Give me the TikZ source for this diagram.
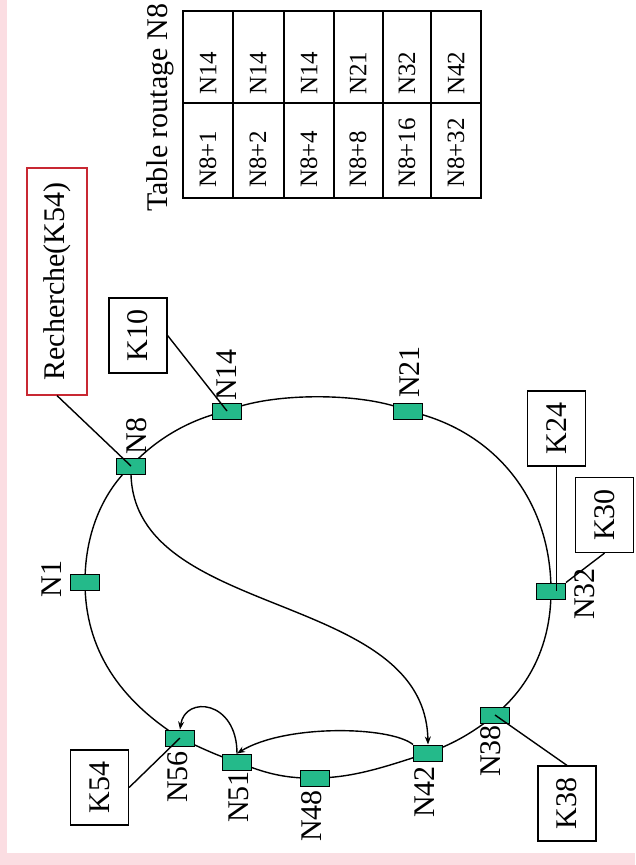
\documentclass[tikz,border=0pt]{standalone}
\usepackage{fontspec}
\setmainfont{Liberation Serif}
\usetikzlibrary{arrows.meta}
\definecolor{pinkbg}{RGB}{251,221,226}
\definecolor{peercol}{RGB}{36,186,138}
\definecolor{searchred}{RGB}{200,40,50}
\pgfdeclarelayer{paper}
\pgfdeclarelayer{background}
\pgfsetlayers{paper,background,main}

\begin{document}
\begin{tikzpicture}[x=1pt,y=-1pt,
  peer/.style={draw=black, line width=1pt, fill=peercol,
    minimum width=29pt, minimum height=16pt, inner sep=0pt},
  plabel/.style={rotate=90, inner sep=0pt, font=\fontsize{30}{36}\selectfont},
  keybox/.style={draw, line width=1.2pt, rotate=90, minimum width=75pt,
    minimum height=58pt, inner sep=0pt, font=\fontsize{30}{36}\selectfont},
  ring/.style={line width=1.4pt},
  link/.style={line width=1.4pt},
  hop/.style={line width=1.4pt, -{Stealth[length=8pt,width=6pt]}},
  cell/.style={rotate=90, anchor=west, inner sep=0pt, font=\fontsize{25}{30}\selectfont},
]
% page background with pink frame
\begin{pgfonlayer}{paper}
\fill[pinkbg] (0,0) rectangle (635,865);
\fill[white] (7,0) rectangle (635,853);
\end{pgfonlayer}
\useasboundingbox (0,0) rectangle (635,865);

% routing table of N8
\node[rotate=90, anchor=base west, inner sep=0pt, font=\fontsize{30}{36}\selectfont]
  (title) at (167,212) {Table routage N8};
\draw[line width=1.4pt] (183,11) rectangle (481,198);
\draw[line width=1.4pt] (183,103) -- (481,103);
\foreach \x in {233,284,334,383,431}
  \draw[line width=1.4pt] (\x,11) -- (\x,198);
\node[cell] (f1) at (208,188) {N8+1};
\node[cell] (f2) at (258,188) {N8+2};
\node[cell] (f3) at (309,188) {N8+4};
\node[cell] (f4) at (358,188) {N8+8};
\node[cell] (f5) at (407,188) {N8+16};
\node[cell] (f6) at (456,188) {N8+32};
\node[cell] (s1) at (208,95) {N14};
\node[cell] (s2) at (258,95) {N14};
\node[cell] (s3) at (309,95) {N14};
\node[cell] (s4) at (358,95) {N21};
\node[cell] (s5) at (407,95) {N32};
\node[cell] (s6) at (456,95) {N42};

% peers on the ring
\node[peer] (N1)  at (85,582)  {};
\node[peer] (N8)  at (131,466) {};
\node[peer] (N14) at (227,411) {};
\node[peer] (N21) at (408,411) {};
\node[peer] (N32) at (551,591) {};
\node[peer] (N38) at (495,715) {};
\node[peer] (N42) at (428,753) {};
\node[peer] (N48) at (315,778) {};
\node[peer] (N51) at (237,762) {};
\node[peer] (N56) at (180,738) {};

% peer names
\node[plabel] (lN1)  at (52,579)  {N1};
\node[plabel] (lN8)  at (137,436) {N8};
\node[plabel] (lN14) at (227,375) {N14};
\node[plabel] (lN21) at (410,372) {N21};
\node[plabel] (lN32) at (585,594) {N32};
\node[plabel] (lN38) at (491,751) {N38};
\node[plabel] (lN42) at (425,792) {N42};
\node[plabel] (lN48) at (312,816) {N48};
\node[plabel] (lN51) at (239,797) {N51};
\node[plabel] (lN56) at (178,777) {N56};

% keys and the lookup request
\node[keybox, draw=searchred, minimum width=227pt, minimum height=60pt]
  (req) at (57,281.5) {Recherche(K54)};
\node[keybox] (K10) at (138,335.5) {K10};
\node[keybox] (K24) at (556.5,428.5) {K24};
\node[keybox] (K30) at (604.5,515) {K30};
\node[keybox] (K38) at (567,803.5) {K38};
\node[keybox] (K54) at (99.5,787.5) {K54};

% the ring itself, behind the peers
\begin{pgfonlayer}{background}
\draw[ring] (N8.center) .. controls (160,435) and (195,418) .. (N14.center)
  .. controls (270,392) and (365,392) .. (N21.center)
  .. controls (495,430) and (551,500) .. (N32.center)
  .. controls (551,650) and (525,690) .. (N38.center)
  .. controls (470,735) and (450,745) .. (N42.center)
  .. controls (390,765) and (355,778) .. (N48.center)
  .. controls (280,779) and (258,770) .. (N51.center)
  .. controls (215,755) and (195,745) .. (N56.center)
  .. controls (120,700) and (85,650) .. (N1.center)
  .. controls (85,530) and (105,490) .. (N8.center);
\end{pgfonlayer}

% keys attached to their peers
\draw[link] (req.west) -- (N8.center);
\draw[link] (K10.south) -- (N14.center);
\draw[link] (K24.west) -- (K24.west |- N32.center);
\draw[link] (K30.west) -- (N32.north east);
\draw[link] (K38.east) -- (N38.center);
\draw[link] (K54.south) -- (N56.center);

% lookup hops
\draw[hop] (N8.south) .. controls (135,620) and (425,590) .. (N42.north);
\draw[hop] (N42.north west) .. controls (390,726) and (285,724) .. (N51.north);
\draw[hop] (N51.north) .. controls (237,700) and (185,695) .. (N56.north);
\end{tikzpicture}
\end{document}
